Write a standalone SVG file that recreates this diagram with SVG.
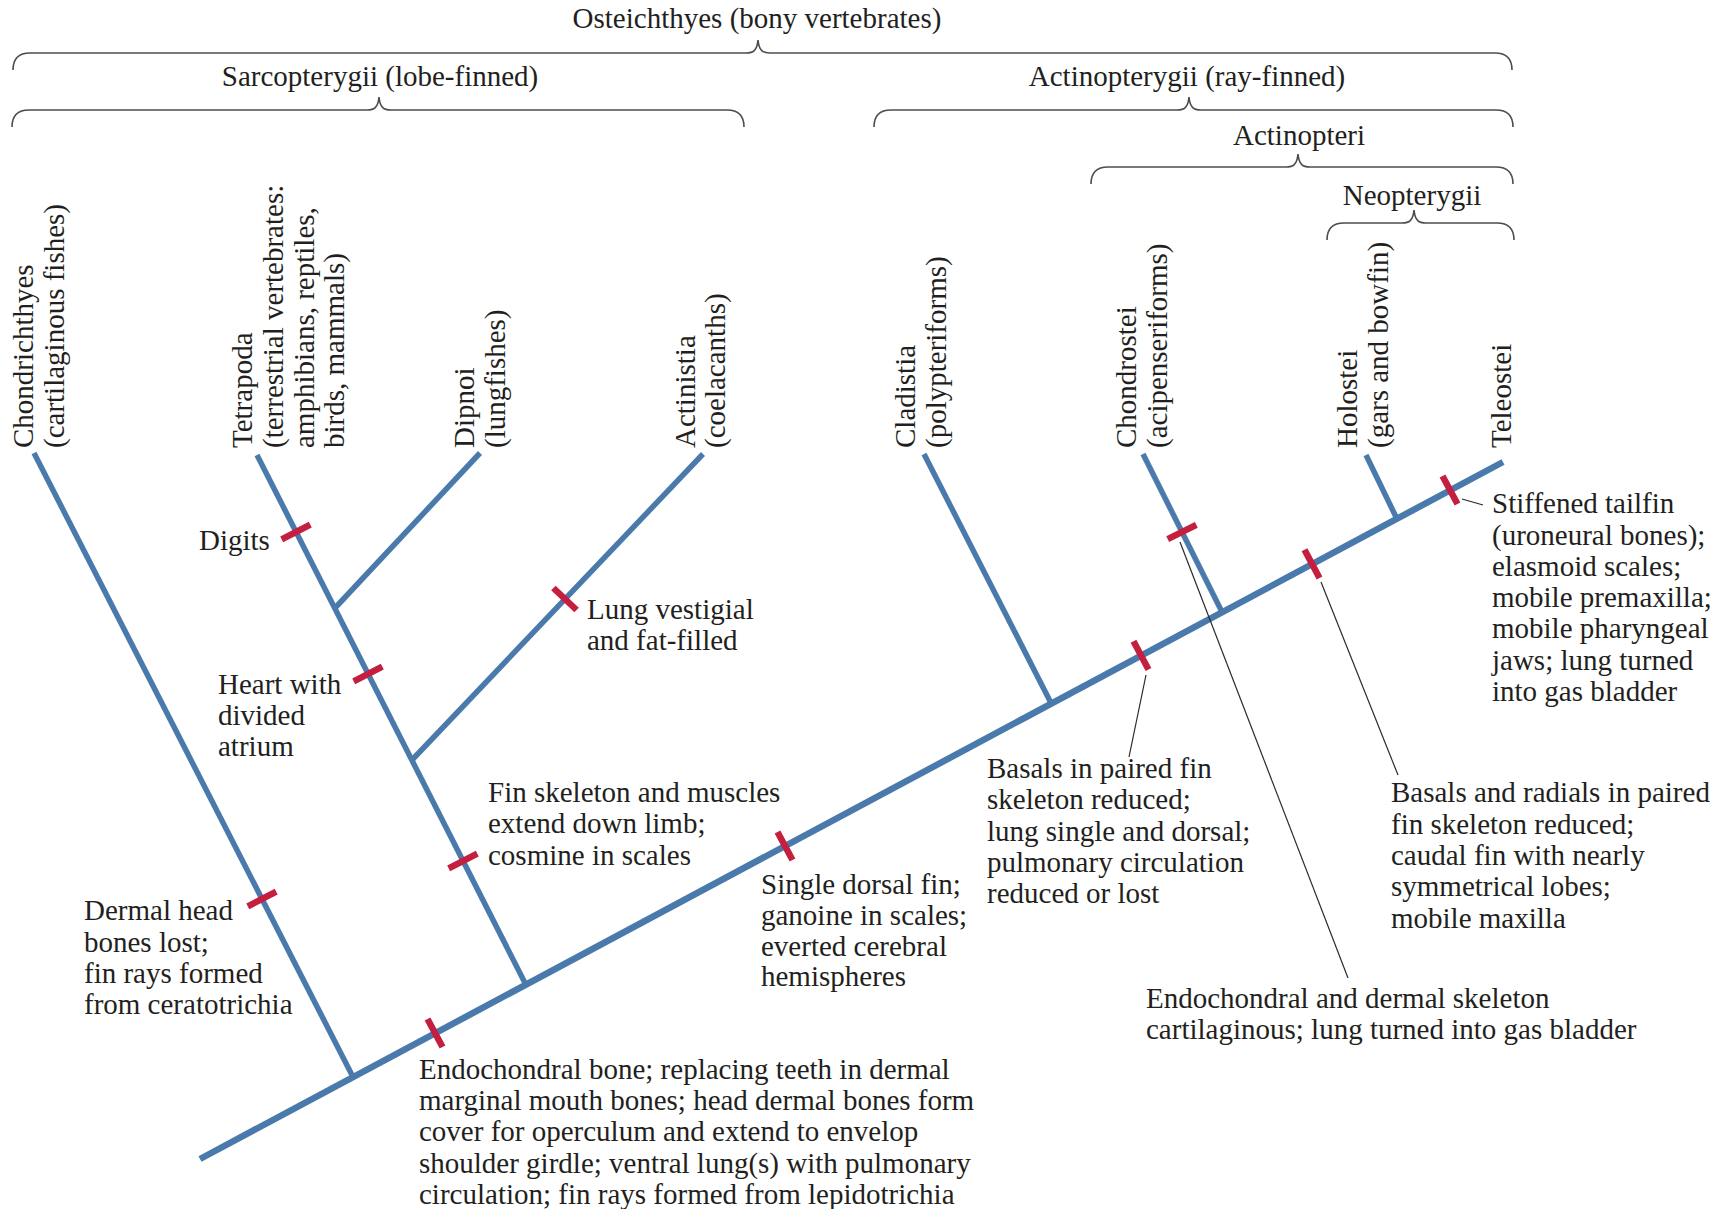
<svg xmlns="http://www.w3.org/2000/svg" width="1733" height="1209" viewBox="0 0 1733 1209">
  <style>
    .t { font-family: "Liberation Serif", "Times New Roman", serif; font-size: 29px; fill: #231f20; }
    .c { text-anchor: middle; }
    .brace { fill: none; stroke: #4d4d4d; stroke-width: 1.6; }
    .br { fill: none; stroke: #4a7aab; stroke-width: 5.5; stroke-linecap: butt; }
    .trunk { stroke-width: 6.5; }
    .tick { stroke: #c41f3e; stroke-width: 6.5; stroke-linecap: butt; }
    .lead { fill: none; stroke: #2a2a2a; stroke-width: 1.2; }
  </style>
  <rect width="1733" height="1209" fill="#ffffff"/>

  <!-- clade braces -->
  <g id="clade-osteichthyes">
    <text class="t c" x="757" y="28">Osteichthyes (bony vertebrates)</text>
    <path class="brace" d="M13,70 Q13,53 30,53 L746,53 C753,53 757,51 758,40 C759,51 763,53 770,53 L1495,53 Q1512,53 1512,70"/>
  </g>
  <g id="clade-sarcopterygii">
    <text class="t c" x="380" y="86">Sarcopterygii (lobe-finned)</text>
    <path class="brace" d="M12,127 Q12,110 29,110 L367,110 C374,110 378,108 379,97 C380,108 384,110 391,110 L727,110 Q744,110 744,127"/>
  </g>
  <g id="clade-actinopterygii">
    <text class="t c" x="1187" y="86">Actinopterygii (ray-finned)</text>
    <path class="brace" d="M874,127 Q874,110 891,110 L1177,110 C1184,110 1188,108 1189,97 C1190,108 1194,110 1201,110 L1496,110 Q1513,110 1513,127"/>
  </g>
  <g id="clade-actinopteri">
    <text class="t c" x="1299" y="145">Actinopteri</text>
    <path class="brace" d="M1091,184 Q1091,167 1108,167 L1286,167 C1293,167 1297,165 1298,154 C1299,165 1303,167 1310,167 L1496,167 Q1513,167 1513,184"/>
  </g>
  <g id="clade-neopterygii">
    <text class="t c" x="1412" y="205">Neopterygii</text>
    <path class="brace" d="M1327,240 Q1327,223 1344,223 L1402,223 C1409,223 1413,221 1414,210 C1415,221 1419,223 1426,223 L1497,223 Q1514,223 1514,240"/>
  </g>

  <!-- terminal taxa, set vertically -->
  <g id="taxon-chondrichthyes">
    <text class="t" transform="translate(33,448) rotate(-90)">Chondrichthyes</text>
    <text class="t" transform="translate(64,448) rotate(-90)">(cartilaginous fishes)</text>
  </g>
  <g id="taxon-tetrapoda">
    <text class="t" transform="translate(252,448) rotate(-90)">Tetrapoda</text>
    <text class="t" transform="translate(283,448) rotate(-90)">(terrestrial vertebrates:</text>
    <text class="t" transform="translate(314,448) rotate(-90)">amphibians, reptiles,</text>
    <text class="t" transform="translate(344,448) rotate(-90)">birds, mammals)</text>
  </g>
  <g id="taxon-dipnoi">
    <text class="t" transform="translate(474,448) rotate(-90)">Dipnoi</text>
    <text class="t" transform="translate(505,448) rotate(-90)">(lungfishes)</text>
  </g>
  <g id="taxon-actinistia">
    <text class="t" transform="translate(695,448) rotate(-90)">Actinistia</text>
    <text class="t" transform="translate(725,448) rotate(-90)">(coelacanths)</text>
  </g>
  <g id="taxon-cladistia">
    <text class="t" transform="translate(915,448) rotate(-90)">Cladistia</text>
    <text class="t" transform="translate(946,448) rotate(-90)">(polypteriforms)</text>
  </g>
  <g id="taxon-chondrostei">
    <text class="t" transform="translate(1136,448) rotate(-90)">Chondrostei</text>
    <text class="t" transform="translate(1167,448) rotate(-90)">(acipenseriforms)</text>
  </g>
  <g id="taxon-holostei">
    <text class="t" transform="translate(1357,448) rotate(-90)">Holostei</text>
    <text class="t" transform="translate(1388,448) rotate(-90)">(gars and bowfin)</text>
  </g>
  <g id="taxon-teleostei">
    <text class="t" transform="translate(1511,448) rotate(-90)">Teleostei</text>
  </g>

  <!-- tree branches and leader lines -->
  <g id="connectors">
    <line class="br trunk" x1="200" y1="1159" x2="1503" y2="462"/>
    <line class="br" x1="34" y1="453" x2="353" y2="1077"/>
    <line class="br" x1="257" y1="455" x2="525" y2="983"/>
    <line class="br" x1="480" y1="453" x2="335" y2="608"/>
    <line class="br" x1="703" y1="454" x2="412" y2="760"/>
    <line class="br" x1="924" y1="454" x2="1051" y2="703"/>
    <line class="br" x1="1143" y1="454" x2="1221" y2="610"/>
    <line class="br" x1="1366" y1="455" x2="1397" y2="519"/>

    <line class="lead" x1="1146" y1="675" x2="1129" y2="757"/>
    <line class="lead" x1="1180" y1="542" x2="1348" y2="978"/>
    <line class="lead" x1="1321" y1="582" x2="1398" y2="775"/>
    <line class="lead" x1="1462" y1="499" x2="1483" y2="505"/>
  </g>

  <!-- character-state marks -->
  <g id="marks">
    <line class="tick" x1="427.5" y1="1019" x2="442.5" y2="1047"/>
    <line class="tick" x1="777.5" y1="832" x2="792.5" y2="860"/>
    <line class="tick" x1="1133.5" y1="641.3" x2="1148.5" y2="669.5"/>
    <line class="tick" x1="1304.5" y1="549.8" x2="1319.5" y2="578"/>
    <line class="tick" x1="1442.5" y1="476" x2="1457.5" y2="504"/>
    <line class="tick" x1="247.8" y1="906.3" x2="276.2" y2="891.7"/>
    <line class="tick" x1="281.7" y1="539.3" x2="310.3" y2="524.7"/>
    <line class="tick" x1="353.7" y1="681.3" x2="382.3" y2="666.7"/>
    <line class="tick" x1="448.7" y1="868.3" x2="477.3" y2="853.7"/>
    <line class="tick" x1="553.4" y1="588" x2="576.6" y2="610"/>
    <line class="tick" x1="1167.7" y1="539.2" x2="1196.3" y2="524.8"/>
  </g>

  <!-- character annotations -->
  <g id="note-osteichthyes">
    <text class="t" x="419" y="1079">Endochondral bone; replacing teeth in dermal</text>
    <text class="t" x="419" y="1110">marginal mouth bones; head dermal bones form</text>
    <text class="t" x="419" y="1141">cover for operculum and extend to envelop</text>
    <text class="t" x="419" y="1173">shoulder girdle; ventral lung(s) with pulmonary</text>
    <text class="t" x="419" y="1204">circulation; fin rays formed from lepidotrichia</text>
  </g>
  <g id="note-chondrichthyes">
    <text class="t" x="84" y="920">Dermal head</text>
    <text class="t" x="84" y="952">bones lost;</text>
    <text class="t" x="84" y="983">fin rays formed</text>
    <text class="t" x="84" y="1014">from ceratotrichia</text>
  </g>
  <g id="note-sarcopterygii">
    <text class="t" x="488" y="802">Fin skeleton and muscles</text>
    <text class="t" x="488" y="833">extend down limb;</text>
    <text class="t" x="488" y="865">cosmine in scales</text>
  </g>
  <g id="note-actinopterygii">
    <text class="t" x="761" y="894">Single dorsal fin;</text>
    <text class="t" x="761" y="925">ganoine in scales;</text>
    <text class="t" x="761" y="956">everted cerebral</text>
    <text class="t" x="761" y="986">hemispheres</text>
  </g>
  <g id="note-actinopteri">
    <text class="t" x="987" y="778">Basals in paired fin</text>
    <text class="t" x="987" y="809">skeleton reduced;</text>
    <text class="t" x="987" y="841">lung single and dorsal;</text>
    <text class="t" x="987" y="872">pulmonary circulation</text>
    <text class="t" x="987" y="903">reduced or lost</text>
  </g>
  <g id="note-neopterygii">
    <text class="t" x="1391" y="802">Basals and radials in paired</text>
    <text class="t" x="1391" y="834">fin skeleton reduced;</text>
    <text class="t" x="1391" y="865">caudal fin with nearly</text>
    <text class="t" x="1391" y="896">symmetrical lobes;</text>
    <text class="t" x="1391" y="928">mobile maxilla</text>
  </g>
  <g id="note-chondrostei">
    <text class="t" x="1146" y="1008">Endochondral and dermal skeleton</text>
    <text class="t" x="1146" y="1039">cartilaginous; lung turned into gas bladder</text>
  </g>
  <g id="note-teleostei">
    <text class="t" x="1492" y="513">Stiffened tailfin</text>
    <text class="t" x="1492" y="545">(uroneural bones);</text>
    <text class="t" x="1492" y="576">elasmoid scales;</text>
    <text class="t" x="1492" y="607">mobile premaxilla;</text>
    <text class="t" x="1492" y="638">mobile pharyngeal</text>
    <text class="t" x="1492" y="670">jaws; lung turned</text>
    <text class="t" x="1492" y="701">into gas bladder</text>
  </g>
  <g id="note-actinistia">
    <text class="t" x="587" y="619">Lung vestigial</text>
    <text class="t" x="587" y="650">and fat-filled</text>
  </g>
  <g id="note-tetrapodomorpha">
    <text class="t" x="218" y="694">Heart with</text>
    <text class="t" x="218" y="725">divided</text>
    <text class="t" x="218" y="756">atrium</text>
  </g>
  <g id="note-tetrapoda">
    <text class="t" x="199" y="550">Digits</text>
  </g>
</svg>
